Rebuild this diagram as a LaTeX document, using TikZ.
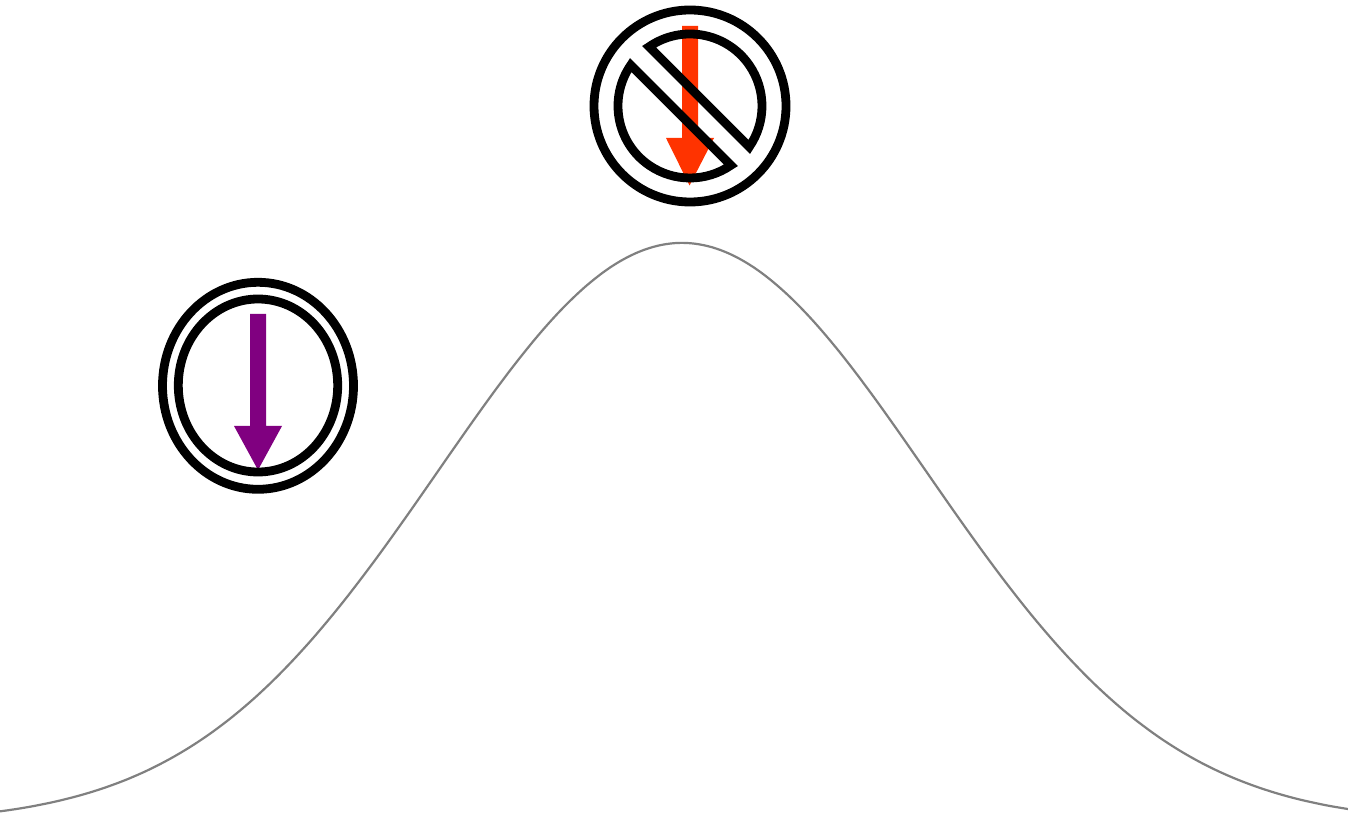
\documentclass[tikz,border=0pt]{standalone}
\definecolor{arrowred}{HTML}{FF3300}
\definecolor{arrowpurple}{HTML}{800080}
\tikzset{
  ring/.style={draw=black,line width=8.8pt,miter limit=10},
  curveline/.style={draw=black!50,line width=2.2pt,line join=round},
  redarrow/.style={fill=arrowred,draw=none},
  purplearrow/.style={fill=arrowpurple,draw=none}
}
\begin{document}
\begin{tikzpicture}[x=1pt,y=1pt]
\useasboundingbox (0,0) rectangle (1348,812);
\fill[white] (0,0) rectangle (1348,812);
\begin{scope}[yscale=-1,yshift=-812pt]
  \draw[curveline] plot[smooth,samples=160,domain=-2.795:2.73] ({682+244*\x},{823-580*exp(-0.5*(\x)*(\x))});
  \fill[redarrow] (682,26) -- (698,26) -- (698,138) -- (714,138) -- (689.5,185.5) -- (666,138) -- (682,138) -- cycle;
  \fill[purplearrow] (250,314) -- (266,314) -- (266,426) -- (282,426) -- (258,470) -- (234,426) -- (250,426) -- cycle;
  \draw[ring] (258,385.8) ellipse [x radius=95.5,y radius=103.5];
  \draw[ring] (258,385.5) ellipse [x radius=79.7,y radius=86.5];
  \draw[ring] (690,106) circle [radius=96];
\end{scope}
% the inner disc of the forbidden sign, split by a diagonal band
\draw[ring] (690,706) ++(124.6:72) arc[start angle=124.6,end angle=-34.6,radius=72] -- cycle;
\draw[ring] (690,706) ++(145.4:72) arc[start angle=145.4,end angle=304.6,radius=72] -- cycle;
\end{tikzpicture}
\end{document}
